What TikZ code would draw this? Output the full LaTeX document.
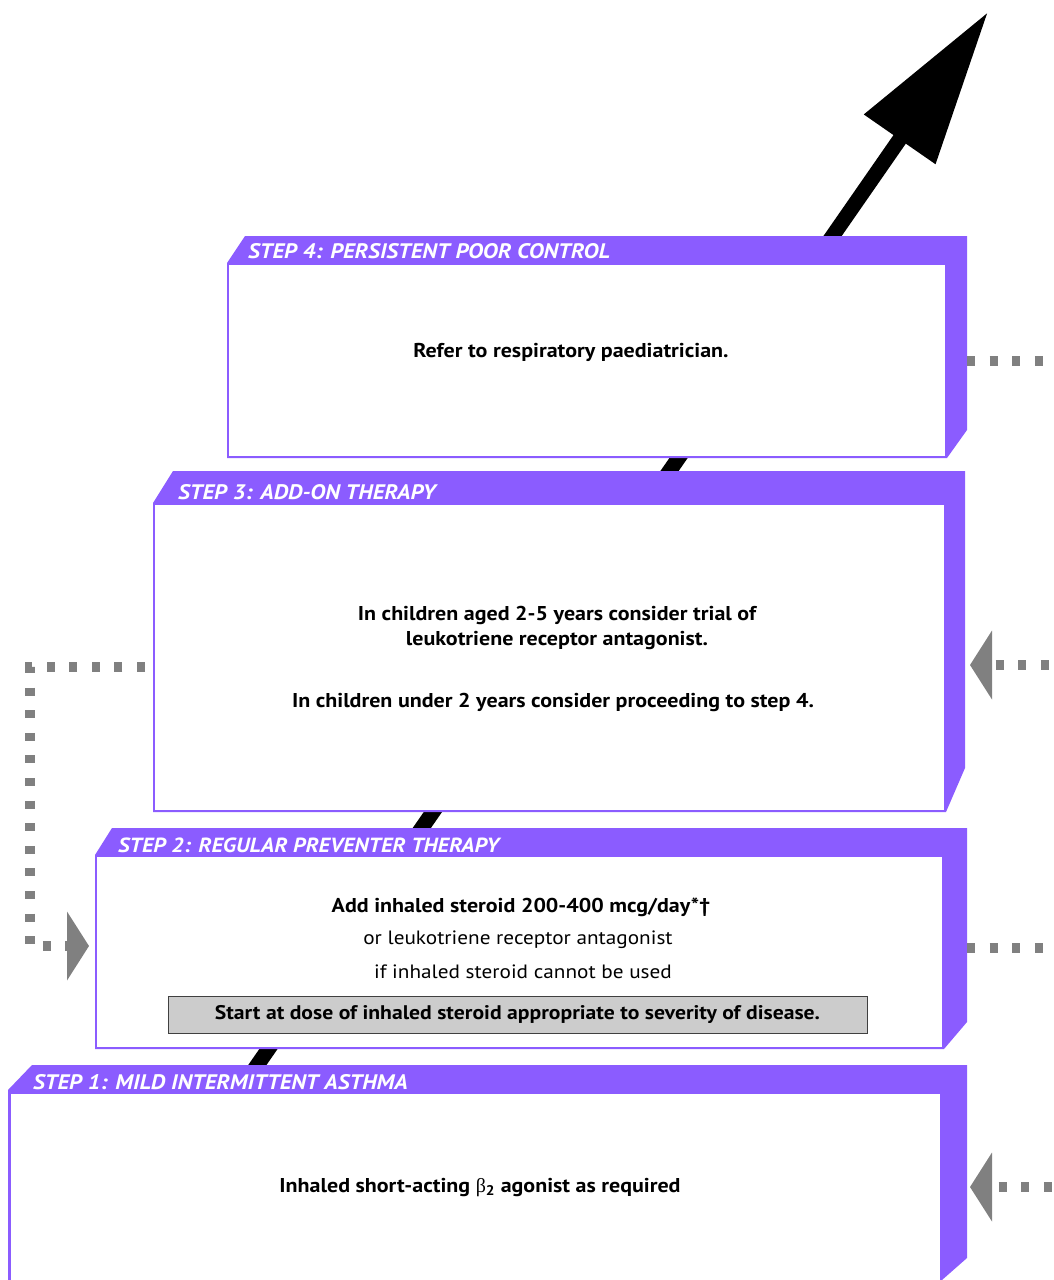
\documentclass[tikz,border=0pt]{standalone}
\usepackage{fontspec}
\setmainfont{PT Sans}[FakeStretch=1.1]
\newfontfamily\grkfont{Liberation Serif}
\usetikzlibrary{arrows.meta}
\definecolor{steppurple}{RGB}{139,92,255}
\definecolor{dotgray}{RGB}{128,128,128}
\definecolor{boxgray}{RGB}{204,204,204}
\begin{document}
\begin{tikzpicture}[x=1pt,y=-1pt,
  hdr/.style={anchor=west, text=white, font=\fontsize{21}{24}\selectfont\bfseries\itshape, inner sep=0pt},
  bodyb/.style={font=\fontsize{20}{25}\selectfont\bfseries, align=center, inner sep=0pt},
  bodyr/.style={font=\fontsize{19.3}{25}\selectfont, align=center, inner sep=0pt},
  dots/.style={draw=dotgray, line width=10pt, dash pattern=on 8pt off 14.6pt},
  whitebox/.style={fill=white, inner sep=0pt, anchor=north west},
  stepband/.style={fill=steppurple},
  graytip/.tip={Triangle[length=22pt,width=68pt]}
]
\useasboundingbox (0,0) rectangle (1053,1280);

% main progression arrow (behind the boxes)
\coordinate (arrowstart) at (240,1090);
\coordinate (arrowtip) at (988,12);
\draw[line width=15pt, -{Triangle[length=155pt,width=83pt]}] (arrowstart) -- (arrowtip);

% Step 4
\fill[stepband] (245,236) -- (967,236) -- (967,430) -- (947,458) -- (227,458) -- (227,263) -- cycle;
\node[whitebox, minimum width=716pt, minimum height=191pt] (s4) at (229,265) {};
\node[hdr] (h4) at (248,251) {STEP 4: PERSISTENT POOR CONTROL};
\node[bodyb] (t4) at (571,352.5) {Refer to respiratory paediatrician.};

% Step 3
\fill[stepband] (173,471) -- (965,471) -- (965,768) -- (946,812) -- (153,812) -- (153,503) -- cycle;
\node[whitebox, minimum width=789pt, minimum height=305pt] (s3) at (155,505) {};
\node[hdr] (h3) at (178,492) {STEP 3: ADD-ON THERAPY};
\node[bodyb] (t3a) at (557,628) {In children aged 2-5 years consider trial of\\leukotriene receptor antagonist.};
\node[bodyb] (t3b) at (553,702.5) {In children under 2 years consider proceeding to step 4.};

% Step 2
\fill[stepband] (112,828) -- (967,828) -- (967,1022) -- (944,1049) -- (95,1049) -- (95,855) -- cycle;
\node[whitebox, minimum width=845pt, minimum height=190pt] (s2) at (97,857) {};
\node[hdr, font=\fontsize{20.5}{24}\selectfont\bfseries\itshape] (h2) at (118,845) {STEP 2: REGULAR PREVENTER THERAPY};
\node[bodyb] (t2a) at (521,907.5) {Add inhaled steroid 200-400 mcg/day*†};
\node[bodyr] (t2b) at (518,939.5) {or leukotriene receptor antagonist};
\node[bodyr] (t2c) at (523,971.5) {if inhaled steroid cannot be used};
\node[bodyb, font=\fontsize{19.7}{25}\selectfont\bfseries, draw=black!75, line width=1pt, fill=boxgray, minimum width=699pt, minimum height=37pt] (g2) at (517.5,1014.5) {Start at dose of inhaled steroid appropriate to severity of disease.};

% Step 1
\fill[stepband] (32,1065) -- (967,1065) -- (967,1258) -- (942,1280) -- (8,1280) -- (8,1090) -- cycle;
\node[whitebox, minimum width=929pt, minimum height=186pt] (s1) at (11,1094) {};
\node[hdr] (h1) at (33,1082) {STEP 1: MILD INTERMITTENT ASTHMA};
\node[bodyb] (t1) at (480,1187.5) {Inhaled short-acting {\mdseries\grkfont β}\textsubscript{2} agonist as required};

% right-hand connectors
\coordinate (r4a) at (967,361);  \coordinate (r4b) at (1060,361);
\draw[dots] (r4a) -- (r4b);
\coordinate (r3tip) at (970,665); \coordinate (r3far) at (1060,665);
\draw[dots, dash phase=17.6pt, {graytip}-] (r3tip) -- (r3far);
\coordinate (r2a) at (967,948);  \coordinate (r2b) at (1060,948);
\draw[dots] (r2a) -- (r2b);
\coordinate (r1tip) at (970,1187); \coordinate (r1far) at (1060,1187);
\draw[dots, dash phase=14.6pt, {graytip}-] (r1tip) -- (r1far);

% left-hand connector from step 3 back to step 2
\coordinate (l3) at (145,667);
\coordinate (lc1) at (30,667);
\coordinate (lc2) at (30,946);
\coordinate (l2tip) at (89,946);
\draw[dots, -{graytip}] (l3) -- (lc1) -- (lc2) -- (l2tip);
\end{tikzpicture}
\end{document}
